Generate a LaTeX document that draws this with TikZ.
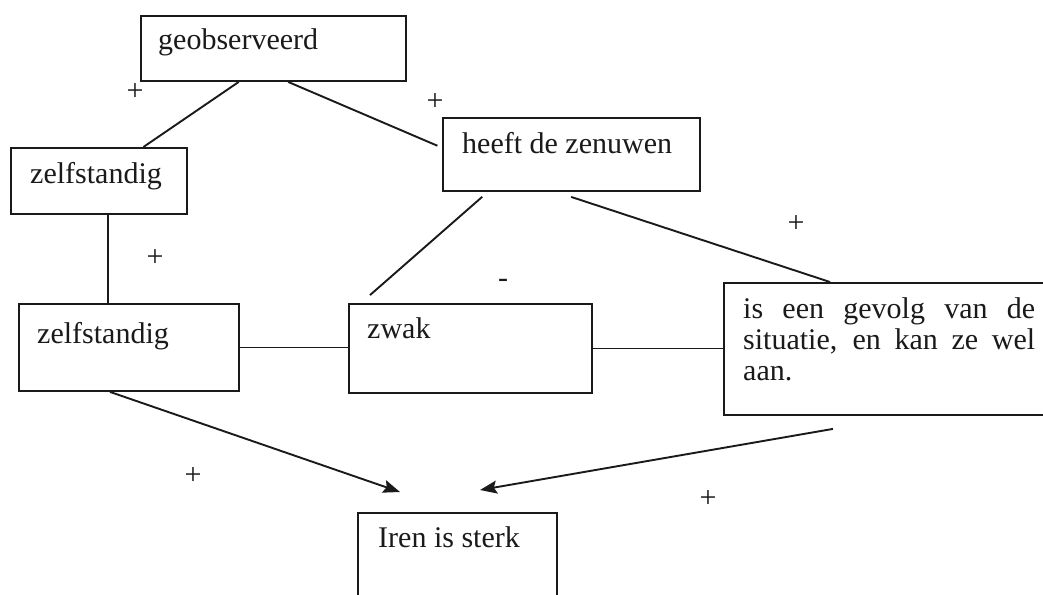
\documentclass[tikz,border=0pt]{standalone}
\usepackage{fontspec}
\setmainfont{Liberation Serif}
\usetikzlibrary{calc,arrows.meta}
\definecolor{ink}{HTML}{1A1A1A}
% paragraph settings for the justified box text: no hyphenation
\newcommand\nohyphpar{\hyphenpenalty=10000\relax\exhyphenpenalty=10000\relax\tolerance=9999\relax}
\begin{document}
\begin{tikzpicture}[x=1pt,y=-1pt,
  box/.style={draw=ink, line width=1.9pt, inner sep=0pt, anchor=north west},
  lbl/.style={inner sep=0pt, anchor=base west, text=ink, font=\fontsize{30}{31}\selectfont},
  para/.style={lbl, text width=292pt, align=justify,
    font=\fontsize{30}{31}\selectfont\nohyphpar},
  sign/.style={inner sep=0pt, text=ink, font=\fontsize{30}{31}\selectfont},
  link/.style={draw=ink, line width=1.9pt},
  arr/.style={link, -{Stealth[length=17pt,width=13pt,inset=3pt]}}
]
\useasboundingbox (0,0) rectangle (1043,594);
\fill[white] (0,0) rectangle (1043,594);
\clip (0,0) rectangle (1043,594);

% boxes
\node[box, minimum width=265, minimum height=65] (geo) at (140,15) {};
\node[box, minimum width=176, minimum height=66] (zs1) at (10,147) {};
\node[box, minimum width=257, minimum height=73] (hz)  at (442,117) {};
\node[box, minimum width=220, minimum height=87] (zs2) at (18,303) {};
\node[box, minimum width=243, minimum height=89] (zw)  at (348,303) {};
\node[box, minimum width=340, minimum height=132] (gev) at (723,282) {};
\node[box, minimum width=199, minimum height=100] (iren) at (357,512) {};

% box texts
\node[lbl] (geo-t) at (158,50) {geobserveerd};
\node[lbl] (zs1-t) at (30,183) {zelfstandig};
\node[lbl] (hz-t)  at (462,153) {heeft de zenuwen};
\node[lbl] (zs2-t) at (37,343) {zelfstandig};
\node[lbl] (zw-t)  at (367,338) {zwak};
\node[para] (gev-t) at (743,318) {is een gevolg van de situatie, en kan ze wel aan.};
\node[lbl] (iren-t) at (378,547) {Iren is sterk};

% connectors
\draw[link] ($(geo.south west)!0.37!(geo.south east)$) -- ($(zs1.north west)!0.75!(zs1.north east)$);
\draw[link, shorten >=5pt] ($(geo.south west)!0.555!(geo.south east)$) -- ($(hz.north west)!0.41!(hz.south west)$);
\coordinate (v1) at ($(zs1.south west)!0.55!(zs1.south east)$);
\draw[link] (v1) -- (v1 |- zs2.north);
\draw[link, shorten <=7.5pt, shorten >=12pt] ($(hz.south west)!0.177!(hz.south east)$) -- ($(zw.north west)!0.053!(zw.north east)$);
\draw[link, shorten <=16pt] ($(hz.south west)!0.44!(hz.south east)$) -- ($(gev.north west)+(107,0)$);
\draw[link] (zs2.east) -- (zs2.east -| zw.west);
\draw[link] (zw.east) -- (zw.east -| gev.west);

% arrows towards the conclusion
\coordinate (tipA) at ($(iren.north west)+(43,-20)$);
\coordinate (tipB) at ($(iren.north west)+(123,-22)$);
\draw[arr] ($(zs2.south west)+(92,0)$) -- (tipA);
\draw[arr] ($(gev.south west)+(110,13)$) -- (tipB);

% signs
\node[sign] (s1) at (135,92) {+};
\node[sign] (s2) at (435,102) {+};
\node[sign] (s3) at (155,258) {+};
\node[sign] (s4) at (796,224) {+};
\node[sign] (s5) at (503,283) {-};
\node[sign] (s6) at (193,476) {+};
\node[sign] (s7) at (708,499) {+};
\end{tikzpicture}
\end{document}
